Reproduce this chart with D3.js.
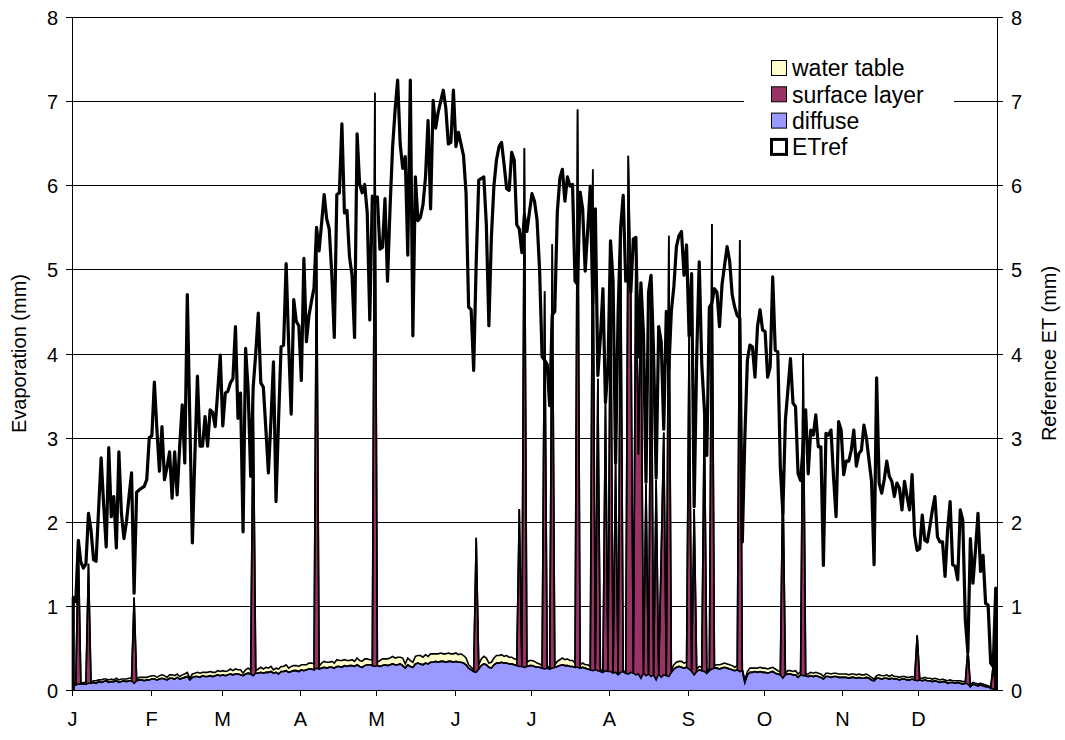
<!DOCTYPE html>
<html>
<head>
<meta charset="utf-8">
<script src="https://cdn.jsdelivr.net/npm/d3@7"></script>
<style>
  body { margin: 0; background: #fff; }
  text { font-family: Arial, "Liberation Sans", sans-serif; fill: #000; }
</style>
</head>
<body>
<svg id="chart" width="1065" height="740"></svg>
<script>
// Month labels on the category axis and the day of year each month starts
const monthLabels = ["J", "F", "M", "A", "M", "J", "J", "A", "S", "O", "N", "D"];
const monthStart = [0, 31, 59, 90, 120, 151, 181, 212, 243, 273, 304, 334];
const yTicks = [0, 1, 2, 3, 4, 5, 6, 7, 8];

// Daily reference evapotranspiration (mm), one value per day, month per line
const etref = [
  1.10,1.05,1.78,1.52,1.45,1.50,2.10,1.90,1.55,1.53,2.15,2.76,2.20,1.70,2.88,2.06,2.30,1.69,2.83,2.10,1.80,2.00,2.30,2.58,1.15,2.35,2.38,2.40,2.42,2.50,3.00,
  3.02,3.66,3.10,2.60,3.13,2.50,2.65,2.83,2.28,2.83,2.32,2.90,3.39,2.70,4.70,3.20,1.75,2.80,3.73,2.90,2.90,3.25,2.90,3.33,3.30,3.13,3.55,3.98,
  3.14,3.53,3.55,3.65,3.70,4.32,3.23,3.53,1.88,4.06,3.57,2.54,3.60,4.00,4.48,3.65,3.60,3.10,2.58,3.20,3.90,2.24,3.20,4.08,4.10,5.07,4.10,3.28,4.64,4.38,4.33,
  3.68,5.13,4.14,4.45,4.62,4.78,5.50,5.22,5.55,5.89,5.60,5.48,4.95,4.19,5.89,5.91,6.73,5.67,5.70,5.15,4.93,4.19,6.61,6.01,5.91,6.01,5.67,4.40,5.87,5.80,
  5.86,5.24,5.26,5.84,4.86,5.73,6.45,6.90,7.25,6.49,6.20,6.34,5.17,7.25,4.21,6.10,5.58,5.62,5.77,6.10,6.77,5.72,7.01,6.68,6.87,7.00,7.13,6.92,6.49,6.51,7.13,
  6.46,6.63,6.49,6.35,5.90,4.55,4.52,3.80,5.09,6.06,6.08,6.10,5.53,4.33,5.39,6.00,6.30,6.46,6.51,6.25,5.96,5.94,6.39,6.30,5.53,5.48,5.20,5.65,5.45,5.68,
  5.90,5.81,5.59,5.00,3.96,3.92,3.87,3.38,4.46,4.50,5.68,6.08,6.19,5.81,6.10,5.99,6.01,4.86,4.82,5.92,5.72,4.98,5.47,5.99,4.59,5.72,3.74,4.19,4.77,3.42,3.83,
  5.34,4.86,2.70,4.50,5.50,5.88,4.86,5.00,4.73,5.36,5.38,3.96,4.84,4.23,2.47,4.73,4.93,4.00,2.52,4.32,4.14,3.10,4.50,3.80,4.50,4.80,5.27,5.40,5.45,4.93,5.29,
  4.21,4.95,2.18,3.96,5.09,3.87,3.35,2.79,4.55,4.60,4.77,4.73,4.32,4.82,5.05,5.27,5.10,4.70,4.55,4.45,4.42,1.76,3.00,3.92,4.10,4.08,3.72,4.32,4.52,4.28,
  4.26,3.72,3.84,4.91,4.04,4.02,2.65,2.10,3.21,3.57,3.94,3.41,3.37,2.57,2.49,2.90,3.33,2.57,3.09,3.03,3.27,2.89,2.89,1.48,3.05,3.03,3.09,2.53,2.06,3.19,3.09,
  2.56,2.72,2.72,2.85,3.09,2.66,2.81,2.85,3.15,2.99,2.73,2.48,1.49,3.71,2.46,2.34,2.50,2.72,2.54,2.48,2.30,2.46,2.40,2.14,2.48,2.30,2.14,2.56,1.84,1.66,
  1.68,2.08,1.78,1.76,1.94,2.14,2.30,1.82,1.76,1.76,1.35,1.90,2.24,1.49,1.47,1.31,2.14,2.02,0.83,0.45,1.80,1.27,1.66,2.10,1.41,1.60,1.03,1.01,0.32,0.28,1.21
];

// Diffuse evaporation (mm/day)
const diffuse = [
  0.06,0.06,0.07,0.07,0.07,0.07,0.08,0.08,0.09,0.08,0.10,0.09,0.10,0.11,0.09,0.10,0.10,0.11,0.09,0.10,0.11,0.10,0.11,0.11,0.08,0.11,0.12,0.12,0.11,0.12,0.12,
  0.13,0.13,0.12,0.13,0.14,0.13,0.12,0.14,0.14,0.13,0.15,0.13,0.14,0.15,0.16,0.12,0.15,0.16,0.16,0.15,0.17,0.16,0.16,0.17,0.16,0.17,0.18,0.17,
  0.18,0.17,0.18,0.19,0.18,0.19,0.19,0.18,0.17,0.19,0.20,0.19,0.17,0.20,0.20,0.21,0.20,0.21,0.21,0.22,0.20,0.21,0.19,0.22,0.22,0.23,0.21,0.22,0.23,0.23,0.22,
  0.24,0.23,0.24,0.25,0.25,0.24,0.26,0.25,0.26,0.27,0.26,0.27,0.27,0.26,0.28,0.28,0.27,0.29,0.28,0.29,0.29,0.28,0.30,0.28,0.27,0.29,0.30,0.30,0.29,0.28,
  0.29,0.28,0.29,0.30,0.29,0.30,0.31,0.30,0.30,0.31,0.29,0.26,0.30,0.28,0.27,0.31,0.32,0.31,0.30,0.32,0.31,0.33,0.33,0.34,0.33,0.34,0.34,0.33,0.34,0.34,0.33,
  0.34,0.33,0.33,0.32,0.30,0.26,0.24,0.22,0.21,0.25,0.29,0.31,0.30,0.27,0.26,0.30,0.32,0.32,0.33,0.32,0.32,0.31,0.31,0.30,0.29,0.28,0.28,0.27,0.28,0.29,
  0.29,0.28,0.27,0.27,0.26,0.25,0.26,0.25,0.26,0.27,0.28,0.29,0.30,0.29,0.29,0.28,0.28,0.27,0.27,0.26,0.27,0.26,0.25,0.24,0.23,0.24,0.23,0.22,0.21,0.23,0.22,
  0.22,0.20,0.21,0.18,0.21,0.22,0.20,0.19,0.21,0.20,0.18,0.19,0.14,0.20,0.17,0.19,0.16,0.18,0.12,0.19,0.15,0.18,0.17,0.16,0.21,0.25,0.27,0.28,0.27,0.26,0.27,
  0.25,0.22,0.18,0.22,0.24,0.23,0.22,0.20,0.23,0.25,0.26,0.26,0.25,0.26,0.27,0.26,0.25,0.24,0.23,0.24,0.22,0.23,0.09,0.18,0.21,0.21,0.22,0.21,0.22,0.21,
  0.21,0.20,0.21,0.22,0.20,0.19,0.18,0.14,0.18,0.19,0.19,0.18,0.18,0.15,0.18,0.17,0.17,0.16,0.17,0.16,0.17,0.16,0.15,0.13,0.16,0.16,0.15,0.16,0.16,0.15,0.15,
  0.15,0.15,0.14,0.15,0.15,0.14,0.15,0.14,0.14,0.15,0.14,0.12,0.11,0.14,0.14,0.13,0.14,0.14,0.13,0.14,0.13,0.13,0.12,0.13,0.13,0.12,0.12,0.13,0.12,0.11,
  0.12,0.11,0.12,0.11,0.11,0.10,0.11,0.10,0.09,0.10,0.10,0.08,0.09,0.09,0.08,0.09,0.08,0.07,0.08,0.07,0.04,0.07,0.06,0.05,0.06,0.05,0.04,0.04,0.02,0.01,0.02
];

// Water table evaporation (mm/day)
const waterTable = [
  0.02,0.02,0.00,0.01,0.02,0.02,0.00,0.01,0.02,0.03,0.02,0.03,0.03,0.02,0.03,0.03,0.02,0.03,0.03,0.03,0.02,0.03,0.03,0.03,0.00,0.02,0.03,0.03,0.04,0.03,0.04,
  0.04,0.04,0.03,0.04,0.04,0.04,0.03,0.04,0.04,0.04,0.04,0.03,0.04,0.04,0.05,0.02,0.04,0.04,0.05,0.05,0.04,0.05,0.05,0.05,0.05,0.04,0.05,0.05,
  0.05,0.05,0.05,0.06,0.05,0.06,0.05,0.06,0.03,0.05,0.06,0.05,0.00,0.03,0.05,0.06,0.05,0.06,0.05,0.06,0.04,0.05,0.06,0.06,0.06,0.07,0.05,0.06,0.06,0.06,0.06,
  0.06,0.07,0.06,0.07,0.07,0.07,0.00,0.03,0.06,0.07,0.07,0.06,0.07,0.06,0.08,0.07,0.08,0.07,0.07,0.06,0.07,0.06,0.08,0.07,0.07,0.08,0.07,0.06,0.07,0.00,
  0.04,0.07,0.08,0.07,0.08,0.08,0.09,0.08,0.09,0.08,0.09,0.05,0.08,0.07,0.06,0.09,0.09,0.10,0.09,0.10,0.09,0.10,0.10,0.09,0.10,0.10,0.09,0.10,0.10,0.09,0.10,
  0.10,0.09,0.10,0.09,0.08,0.04,0.03,0.02,0.00,0.05,0.08,0.09,0.08,0.05,0.07,0.08,0.09,0.09,0.09,0.08,0.09,0.08,0.08,0.07,0.07,0.00,0.05,0.00,0.05,0.06,
  0.06,0.06,0.05,0.04,0.03,0.00,0.02,0.02,0.00,0.03,0.06,0.07,0.08,0.07,0.08,0.07,0.07,0.05,0.00,0.04,0.05,0.04,0.05,0.04,0.00,0.03,0.00,0.02,0.02,0.00,0.02,
  0.00,0.01,0.00,0.01,0.00,0.01,0.01,0.00,0.00,0.01,0.00,0.00,0.00,0.01,0.00,0.01,0.00,0.01,0.00,0.01,0.00,0.00,0.01,0.00,0.03,0.05,0.06,0.06,0.07,0.06,0.06,
  0.00,0.02,0.00,0.03,0.04,0.04,0.00,0.02,0.03,0.00,0.03,0.04,0.05,0.05,0.05,0.05,0.05,0.05,0.04,0.05,0.00,0.02,0.03,0.04,0.05,0.05,0.04,0.05,0.05,0.05,
  0.05,0.05,0.05,0.05,0.05,0.04,0.03,0.00,0.02,0.04,0.04,0.04,0.05,0.04,0.04,0.00,0.02,0.03,0.04,0.04,0.04,0.04,0.04,0.03,0.04,0.04,0.04,0.04,0.04,0.04,0.04,
  0.04,0.04,0.04,0.04,0.04,0.04,0.04,0.04,0.04,0.04,0.03,0.03,0.02,0.03,0.04,0.04,0.03,0.04,0.03,0.04,0.03,0.03,0.03,0.03,0.03,0.03,0.03,0.03,0.03,0.00,
  0.02,0.03,0.03,0.03,0.03,0.03,0.03,0.03,0.03,0.03,0.02,0.03,0.03,0.02,0.03,0.02,0.03,0.03,0.02,0.00,0.02,0.02,0.02,0.02,0.02,0.02,0.02,0.01,0.01,0.00,0.01
];

// Surface-layer evaporation after rain: [day of year, mm]; zero on all other days
const surfaceDays = [
  [2,1.63],[6,1.42],[24,1.02],[71,3.30],[96,5.20],[119,6.82],[159,1.60],[176,1.87],[178,6.17],
  [186,4.49],[189,5.04],[199,6.63],[205,5.96],[207,3.47],[210,3.18],[212,5.08],[214,2.49],[216,5.19],
  [219,6.16],[220,4.50],[222,5.12],[223,2.61],[224,4.66],[226,2.28],[228,4.74],[230,2.38],[232,1.45],
  [233,2.88],[235,5.24],[243,3.95],[245,1.97],[249,3.08],[252,5.29],[263,5.13],[280,2.46],[288,3.83],
  [333,0.54],[353,0.42],[363,0.28]
];

const legendItems = [
  { label: "water table", fill: "#FFFFCC", stroke: 1 },
  { label: "surface layer", fill: "#993366", stroke: 1 },
  { label: "diffuse", fill: "#9999FF", stroke: 1 },
  { label: "ETref", fill: "#FFFFFF", stroke: 3 }
];

const colors = { diffuse: "#9999FF", surface: "#993366", water: "#FFFFCC" };

const svg = d3.select("#chart");
const W = 1065, H = 740;
const plot = { left: 72, right: 997, top: 17, bottom: 690 };
svg.append("rect").attr("width", W).attr("height", H).attr("fill", "#fff");

const nDays = etref.length;
const x = d3.scaleLinear().domain([-0.5, nDays - 0.5]).range([plot.left, plot.right]);
const y = d3.scaleLinear().domain([0, 8]).range([plot.bottom, plot.top]);

const surfaceMap = new Map(surfaceDays.map(d => [d[0], d[1]]));
const rows = etref.map((e, i) => ({
  day: i,
  diffuse: diffuse[i],
  surface: surfaceMap.get(i) || 0,
  water: waterTable[i]
}));

// Horizontal gridlines
svg.append("g").selectAll("line").data(yTicks.filter(v => v > 0)).join("line")
  .attr("x1", plot.left).attr("x2", plot.right)
  .attr("y1", d => Math.round(y(d)) + 0.5).attr("y2", d => Math.round(y(d)) + 0.5)
  .attr("stroke", "#000").attr("stroke-width", 1);

// Stacked evaporation components
const stack = d3.stack().keys(["diffuse", "surface", "water"]);
const layers = stack(rows);
const area = d3.area()
  .x(d => x(d.data.day))
  .y0(d => y(d[0]))
  .y1(d => y(d[1]));
const topLine = d3.line()
  .x(d => x(d.data.day))
  .y(d => y(d[1]));

const gStack = svg.append("g");
gStack.selectAll("path.fill").data(layers).join("path")
  .attr("class", "fill")
  .attr("d", area)
  .attr("fill", d => colors[d.key]);
gStack.selectAll("path.edge").data(layers).join("path")
  .attr("class", "edge")
  .attr("d", topLine)
  .attr("fill", "none")
  .attr("stroke", "#000")
  .attr("stroke-width", 1.6)
  .attr("stroke-linejoin", "miter");

// Reference ET outline, closed down to the axis at both ends
const etPts = etref.map((v, i) => [x(i), y(v)]);
const etPath = d3.line()([[x(0), y(0)], ...etPts, [x(nDays - 1), y(0)]]);
svg.append("path")
  .attr("d", etPath)
  .attr("fill", "none")
  .attr("stroke", "#000")
  .attr("stroke-width", 3.2)
  .attr("stroke-linejoin", "round");

// Axes
const axisG = svg.append("g");
axisG.append("line").attr("x1", plot.left + 0.5).attr("x2", plot.left + 0.5)
  .attr("y1", plot.top).attr("y2", plot.bottom).attr("stroke", "#000");
axisG.append("line").attr("x1", plot.right + 0.5).attr("x2", plot.right + 0.5)
  .attr("y1", plot.top).attr("y2", plot.bottom).attr("stroke", "#000");
axisG.append("line").attr("x1", plot.left).attr("x2", plot.right + 1)
  .attr("y1", plot.bottom + 0.5).attr("y2", plot.bottom + 0.5).attr("stroke", "#000");

yTicks.forEach(v => {
  const yy = Math.round(y(v)) + 0.5;
  axisG.append("line").attr("x1", plot.left - 6).attr("x2", plot.left).attr("y1", yy).attr("y2", yy).attr("stroke", "#000");
  axisG.append("line").attr("x1", plot.right).attr("x2", plot.right + 6).attr("y1", yy).attr("y2", yy).attr("stroke", "#000");
  axisG.append("text").attr("x", plot.left - 14).attr("y", yy).attr("dy", "0.36em")
    .attr("text-anchor", "end").attr("font-size", 20).text(v);
  axisG.append("text").attr("x", plot.right + 14).attr("y", yy).attr("dy", "0.36em")
    .attr("text-anchor", "start").attr("font-size", 20).text(v);
});

monthStart.forEach((d, i) => {
  const xx = Math.round(x(d - 0.5)) + 0.5;
  axisG.append("line").attr("x1", xx).attr("x2", xx)
    .attr("y1", plot.bottom).attr("y2", plot.bottom + 6).attr("stroke", "#000");
  axisG.append("text").attr("x", xx).attr("y", 726)
    .attr("text-anchor", "middle").attr("font-size", 20).text(monthLabels[i]);
});

svg.append("text").attr("transform", `translate(26,${(plot.top + plot.bottom) / 2}) rotate(-90)`)
  .attr("text-anchor", "middle").attr("font-size", 20).text("Evaporation (mm)");
svg.append("text").attr("transform", `translate(1056,${(plot.top + plot.bottom) / 2}) rotate(-90)`)
  .attr("text-anchor", "middle").attr("font-size", 20).text("Reference ET (mm)");

// Legend
const lg = svg.append("g");
lg.append("rect").attr("x", 744).attr("y", 55).attr("width", 210).attr("height", 104).attr("fill", "#fff");
legendItems.forEach((it, i) => {
  const cy = 68 + i * 26.3;
  lg.append("rect").attr("x", 771.5).attr("y", cy - 7.5).attr("width", 15).attr("height", 15)
    .attr("fill", it.fill).attr("stroke", "#000").attr("stroke-width", it.stroke);
  lg.append("text").attr("x", 792).attr("y", cy).attr("dy", "0.36em")
    .attr("font-size", 23).text(it.label);
});
</script>
</body>
</html>
